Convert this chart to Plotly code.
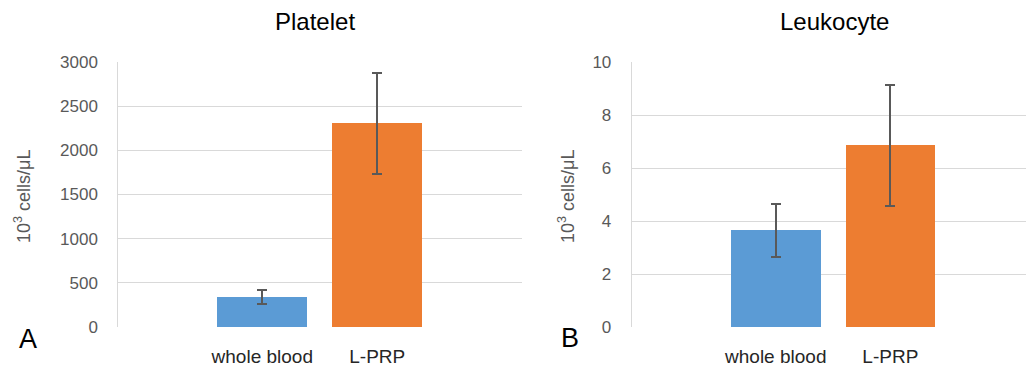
import plotly.graph_objects as go

categories = ["whole blood", "L-PRP"]
platelet_mean = [340, 2305]
platelet_err = [80, 573]
leukocyte_mean = [3.66, 6.86]
leukocyte_err = [1.0, 2.29]
platelet_ticks = [0, 500, 1000, 1500, 2000, 2500, 3000]
leukocyte_ticks = [0, 2, 4, 6, 8, 10]
bar_colors = ["#5B9BD5", "#ED7D31"]

W, H = 1026, 369
FONT = "Liberation Sans, Arial, sans-serif"
TICKC = "#595959"
GRID = "#D9D9D9"

fig = go.Figure()
for i, (m, e, xa, ya) in enumerate([
    (platelet_mean, platelet_err, "x", "y"),
    (leukocyte_mean, leukocyte_err, "x2", "y2"),
]):
    fig.add_trace(go.Bar(
        x=categories, y=m, xaxis=xa, yaxis=ya,
        marker=dict(color=bar_colors, line=dict(width=0)),
        width=0.783,
        error_y=dict(type="data", array=e, visible=True, color="#595959",
                     thickness=2, width=5),
        showlegend=False,
    ))

def px_x(p):
    return p / W

def px_y(p):
    return (H - p) / H

ydom = [px_y(327), px_y(62)]
common_x = dict(showgrid=False, zeroline=False, showline=False, ticks="",
                automargin=False, ticklabelstandoff=16,
                tickfont=dict(family=FONT, size=19, color="#262626"),
                type="category")
common_y = dict(showgrid=True, gridcolor=GRID, gridwidth=1, zeroline=False,
                showline=True, linecolor=GRID, linewidth=1, ticks="",
                automargin=False, ticklabelstandoff=16,
                tickfont=dict(family=FONT, size=17, color=TICKC))

fig.update_layout(
    width=W, height=H,
    margin=dict(l=0, r=0, t=0, b=0, pad=0),
    paper_bgcolor="white", plot_bgcolor="white",
    bargap=0,
    xaxis=dict(domain=[px_x(118.3), px_x(521.7)], range=[-1.252, 2.256], anchor="y", **common_x),
    yaxis=dict(domain=ydom, range=[0, 3000], tickvals=platelet_ticks, anchor="x", **common_y),
    xaxis2=dict(domain=[px_x(631.7), 1.0], range=[-1.257, 2.184], anchor="y2", **common_x),
    yaxis2=dict(domain=ydom, range=[0, 10], tickvals=leukocyte_ticks, anchor="x2", **common_y),
)

annots = [
    dict(text="Platelet", x=px_x(315), y=px_y(22), size=24, color="black"),
    dict(text="Leukocyte", x=px_x(834), y=px_y(22), size=24, color="black"),
    dict(text="A", x=px_x(28), y=px_y(339), size=27, color="black"),
    dict(text="B", x=px_x(570), y=px_y(338), size=27, color="black"),
]
for a in annots:
    fig.add_annotation(text=a["text"], x=a["x"], y=a["y"], xref="paper", yref="paper",
                       showarrow=False, xanchor="center", yanchor="middle",
                       font=dict(family=FONT, size=a["size"], color=a["color"]))
for xc in [22, 566]:
    fig.add_annotation(text="10<sup>3</sup> cells/μL", x=px_x(xc), y=px_y(197),
                       xref="paper", yref="paper", showarrow=False, textangle=-90,
                       xanchor="center", yanchor="middle",
                       font=dict(family=FONT, size=18, color=TICKC))

fig.write_html(
    "out.html",
    config={"displayModeBar": False, "responsive": False},
    post_script="var h=document.documentElement,b=document.body;"
                "h.style.margin='0';h.style.padding='0';h.style.overflow='hidden';h.style.height='369px';"
                "b.style.margin='0';b.style.padding='0';b.style.overflow='hidden';b.style.height='369px';",
)
